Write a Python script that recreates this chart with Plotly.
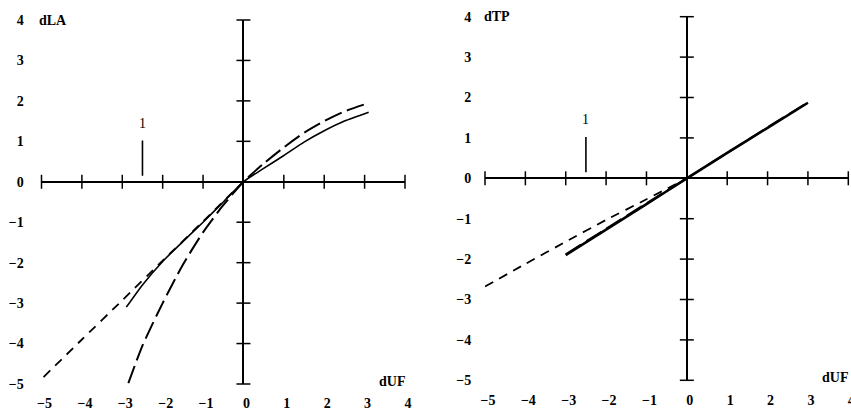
import plotly.graph_objects as go

# ---------------- data ----------------
# left panel: dLA vs dUF
la_solid_x = [-2.9, -2.5, -2.0, -1.5, -1.0, -0.5, 0.0, 0.5, 1.0, 1.5, 2.0, 2.5, 3.1]
la_solid_y = [-3.1, -2.55, -1.97, -1.48, -1.0, -0.5, 0.0, 0.33, 0.65, 0.98, 1.26, 1.5, 1.72]
la_long_x = [-2.85, -2.5, -2.0, -1.5, -1.0, -0.5, 0.0, 0.5, 1.0, 1.5, 2.0, 2.5, 3.05]
la_long_y = [-4.98, -4.05, -3.0, -2.05, -1.25, -0.58, 0.0, 0.45, 0.85, 1.21, 1.5, 1.74, 1.93]
la_short_x = [-4.95, -4.0, -3.0, -2.0, -1.0, 0.0]
la_short_y = [-4.83, -3.9, -2.93, -1.95, -0.98, 0.0]

# right panel: dTP vs dUF
tp_solid_x = [-3.0, -2.0, -1.0, 0.0, 1.0, 2.0, 3.0]
tp_solid_y = [-1.9, -1.27, -0.64, 0.0, 0.63, 1.25, 1.87]
tp_long_x = [-3.0, -2.0, -1.0, 0.0, 1.0, 2.0, 3.0]
tp_long_y = [-1.88, -1.25, -0.62, 0.0, 0.63, 1.26, 1.88]
tp_short_x = [-5.0, -4.0, -3.0, -2.0, -1.0, 0.0]
tp_short_y = [-2.68, -2.12, -1.57, -1.03, -0.52, 0.0]

# axis ticks
tick_vals = [-5, -4, -3, -2, -1, 0, 1, 2, 3, 4]
tick_text = ["\u22125", "\u22124", "\u22123", "\u22122", "\u22121", "0", "1", "2", "3", "4"]
tick_marks = [-5, -4, -3, -2, -1, 1, 2, 3, 4]

# marker "1"
marker_x = -2.5
marker_y = [0.15, 1.02]
marker_label_y = 1.45

x_label = "dUF"
y_labels = ["dLA", "dTP"]

# ---------------- figure ----------------
FONT = "Liberation Serif"
fig = go.Figure()

panels = [
    ("x", "y", la_solid_x, la_solid_y, la_long_x, la_long_y, la_short_x, la_short_y, 1.6),
    ("x2", "y2", tp_solid_x, tp_solid_y, tp_long_x, tp_long_y, tp_short_x, tp_short_y, 2.6),
]

for xa, ya, sx, sy, lx, ly, hx, hy, sw in panels:
    fig.add_trace(go.Scatter(x=sx, y=sy, xaxis=xa, yaxis=ya, mode="lines",
                             line=dict(color="black", width=sw, shape="spline", smoothing=0.6),
                             hoverinfo="skip", showlegend=False))
    fig.add_trace(go.Scatter(x=lx, y=ly, xaxis=xa, yaxis=ya, mode="lines",
                             line=dict(color="black", width=2, dash="18px,6px", shape="spline", smoothing=0.6),
                             hoverinfo="skip", showlegend=False))
    fig.add_trace(go.Scatter(x=hx, y=hy, xaxis=xa, yaxis=ya, mode="lines",
                             line=dict(color="black", width=1.8, dash="9px,7px", shape="spline", smoothing=0.6),
                             hoverinfo="skip", showlegend=False))
    # tick marks on the crossing axes
    fig.add_trace(go.Scatter(x=tick_marks, y=[0] * len(tick_marks), xaxis=xa, yaxis=ya,
                             mode="markers", cliponaxis=False,
                             marker=dict(symbol="line-ns", size=10, line=dict(width=1.5, color="black")),
                             hoverinfo="skip", showlegend=False))
    fig.add_trace(go.Scatter(x=[0] * len(tick_marks), y=tick_marks, xaxis=xa, yaxis=ya,
                             mode="markers", cliponaxis=False,
                             marker=dict(symbol="line-ew", size=10, line=dict(width=1.5, color="black")),
                             hoverinfo="skip", showlegend=False))
    # marker line "1"
    fig.add_trace(go.Scatter(x=[marker_x, marker_x], y=marker_y, xaxis=xa, yaxis=ya,
                             mode="lines", line=dict(color="black", width=1.6),
                             hoverinfo="skip", showlegend=False))

W, H = 851, 410
def px_x(a, b):
    return [a / W, b / W]
def px_y(top, bottom):
    return [1 - bottom / H, 1 - top / H]

axis_common = dict(
    range=[-5, 4], showgrid=False, showline=False, zeroline=True,
    zerolinecolor="black", zerolinewidth=1.6, automargin=False,
    tickmode="array", tickvals=tick_vals, ticktext=tick_text,
    ticks="outside", tickcolor="rgba(0,0,0,0)", ticklabeloverflow="allow",
    tickfont=dict(family=FONT, size=14, color="black", weight="bold"),
    fixedrange=True,
)

fig.update_layout(
    width=W, height=H,
    margin=dict(l=0, r=0, t=0, b=0),
    paper_bgcolor="white", plot_bgcolor="white",
    xaxis=dict(axis_common, domain=px_x(41.5, 405), anchor="y", ticklen=6, ticklabelshift=3),
    yaxis=dict(axis_common, domain=px_y(20, 384), anchor="x", ticklen=14),
    xaxis2=dict(axis_common, domain=px_x(485, 848.3), anchor="y2", ticklen=7, ticklabelshift=3),
    yaxis2=dict(axis_common, domain=px_y(16.7, 380.3), anchor="x2", ticklen=10),
)

annots = []
for i, (xr, yr) in enumerate([("x", "y"), ("x2", "y2")]):
    annots.append(dict(x=-5, y=4, xref=xr, yref=yr, text=y_labels[i], showarrow=False,
                       xanchor="left", yanchor="middle", xshift=-5 if i == 0 else -3,
                       font=dict(family=FONT, size=14, color="black", weight="bold")))
    annots.append(dict(x=4, y=-5, xref=xr, yref=yr, text=x_label, showarrow=False,
                       xanchor="right", yanchor="middle", yshift=3, xshift=2,
                       font=dict(family=FONT, size=14, color="black", weight="bold")))
    annots.append(dict(x=marker_x, y=marker_label_y, xref=xr, yref=yr, text="1", showarrow=False,
                       xanchor="center", yanchor="middle",
                       font=dict(family=FONT, size=14, color="black")))
fig.update_layout(annotations=annots)

fig.write_html(
    "out.html",
    config={"displayModeBar": False},
    post_script="document.body.style.margin='0';document.body.style.overflow='hidden';",
)
